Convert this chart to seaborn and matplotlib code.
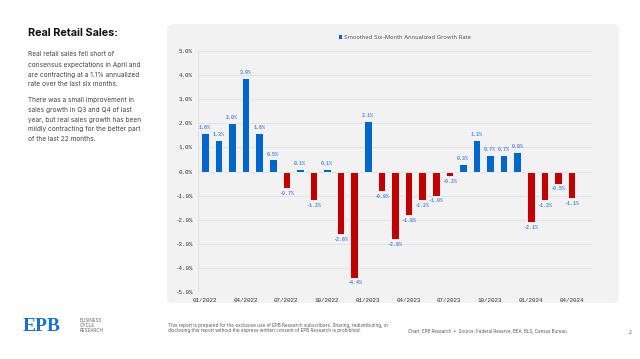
import numpy as np
import pandas as pd
import matplotlib
matplotlib.use("Agg")
import matplotlib.pyplot as plt
from matplotlib.patches import FancyBboxPatch, Patch
import seaborn as sns

# monthly data, 01/2022 .. 04/2024
months = ["01/2022", "02/2022", "03/2022", "04/2022", "05/2022", "06/2022",
          "07/2022", "08/2022", "09/2022", "10/2022", "11/2022", "12/2022",
          "01/2023", "02/2023", "03/2023", "04/2023", "05/2023", "06/2023",
          "07/2023", "08/2023", "09/2023", "10/2023", "11/2023", "12/2023",
          "01/2024", "02/2024", "03/2024", "04/2024"]
growth = [1.6, 1.3, 2.0, 3.9, 1.6, 0.5,
          -0.7, 0.1, -1.2, 0.1, -2.6, -4.4,
          2.1, -0.8, -2.8, -1.8, -1.2, -1.0,
          -0.2, 0.3, 1.3, 0.7, 0.7, 0.8,
          -2.1, -1.2, -0.5, -1.1]
yticks = [5, 4, 3, 2, 1, 0, -1, -2, -3, -4, -5]

BLUE = "#0066cc"
RED = "#c00000"
LABEL_BLUE = "#4a86e8"

df = pd.DataFrame({"month": months, "growth": growth})
df["sign"] = np.where(df["growth"] >= 0, "pos", "neg")

sns.set_style("white")
plt.rcParams["font.family"] = ["Inter", "DejaVu Sans"]

fig = plt.figure(figsize=(6.4, 3.59), dpi=100)
fig.patch.set_facecolor("white")

W, H = 640, 359
def fx(px):
    return px / W
def fy(py):
    return 1 - py / H

# gray chart panel, behind the axes
panel = FancyBboxPatch((fx(167), fy(303)), fx(619) - fx(167), fy(24) - fy(303),
                       boxstyle="round,pad=0,rounding_size=0.012",
                       transform=fig.transFigure, facecolor="#f2f2f2",
                       edgecolor="none", zorder=-10)
fig.patches.append(panel)

ax = fig.add_axes([fx(198), fy(292), fx(592) - fx(198), fy(51) - fy(292)])
ax.patch.set_alpha(0)

sns.barplot(data=df, x="month", y="growth", hue="sign",
            palette={"pos": BLUE, "neg": RED}, dodge=False, legend=False,
            saturation=1, width=0.56, edgecolor="white", linewidth=0.6,
            ax=ax, zorder=3)

for i, v in enumerate(growth):
    off = 0.12 if v >= 0 else -0.12
    ax.text(i, v + off, f"{v:.1f}%", ha="center",
            va="bottom" if v >= 0 else "top",
            fontsize=3.6, color=LABEL_BLUE, family="Liberation Mono",
            fontweight="bold", zorder=4)

ax.set_ylim(-5, 5)
ax.set_xlim(-0.5, 28.5)
ax.set_yticks(yticks)
ax.set_yticklabels([f"{t:.1f}%" for t in yticks], family="Liberation Mono",
                   fontsize=4.2, color="#333333")
xt = list(range(0, len(months), 3))
ax.set_xticks(xt)
ax.set_xticklabels([months[i] for i in xt], family="Liberation Mono",
                   fontsize=4.2, color="#333333")
ax.tick_params(axis="both", length=0, pad=4)
ax.set_xlabel("")
ax.set_ylabel("")
ax.grid(axis="y", color="#e2e2e2", linewidth=0.8, zorder=0)
ax.axvline(-0.5, color="#e2e2e2", linewidth=0.8, zorder=0)
for s in ax.spines.values():
    s.set_visible(False)

ax.legend(handles=[Patch(facecolor=BLUE, edgecolor="none")],
          labels=["Smoothed Six-Month Annualized Growth Rate"],
          loc="center", bbox_to_anchor=(fx(405), fy(37.5)),
          bbox_transform=fig.transFigure, frameon=False, fontsize=4.2,
          handlelength=0.6, handleheight=0.6, handletextpad=0.4,
          labelcolor="#555555")

# left column text
fig.text(fx(28), fy(33.5), "Real Retail Sales:", fontsize=7.8, fontweight="bold",
         color="#111111", va="center", ha="left")
para1 = ["Real retail sales fell short of",
         "consensus expectations in April and",
         "are contracting at a 1.1% annualized",
         "rate over the last six months."]
para2 = ["There was a small improvement in",
         "sales growth in Q3 and Q4 of last",
         "year, but real sales growth has been",
         "mildly contracting for the better part",
         "of the last 22 months."]
for k, line in enumerate(para1):
    fig.text(fx(28), fy(54.5 + 10 * k), line, fontsize=4.7, color="#444444",
             va="center", ha="left")
for k, line in enumerate(para2):
    fig.text(fx(28), fy(100 + 9.8 * k), line, fontsize=4.7, color="#444444",
             va="center", ha="left")

# footer
fig.text(fx(23), fy(326.5), "EPB", fontsize=14, fontweight="bold", color="#1a6fd6",
         family="Liberation Serif", va="center", ha="left")
for k, w in enumerate(["BUSINESS", "CYCLE", "RESEARCH"]):
    fig.text(fx(80), fy(320 + 5.5 * k), w, fontsize=3.3, color="#666666",
             va="center", ha="left")
fig.text(fx(168), fy(325), "This report is prepared for the exclusive use of EPB Research subscribers. Sharing, redistributing, or",
         fontsize=3.35, color="#555555", va="center", ha="left")
fig.text(fx(168), fy(330.5), "disclosing this report without the express written consent of EPB Research is prohibited.",
         fontsize=3.35, color="#555555", va="center", ha="left")
fig.text(fx(408), fy(331), "Chart: EPB Research  \u2022  Source: Federal Reserve, BEA, BLS, Census Bureau",
         fontsize=3.2, color="#555555", va="center", ha="left")
fig.text(fx(630), fy(332), "2", fontsize=3.6, color="#555555", va="center", ha="center")

fig.savefig("out.png", dpi=100, facecolor="white")
